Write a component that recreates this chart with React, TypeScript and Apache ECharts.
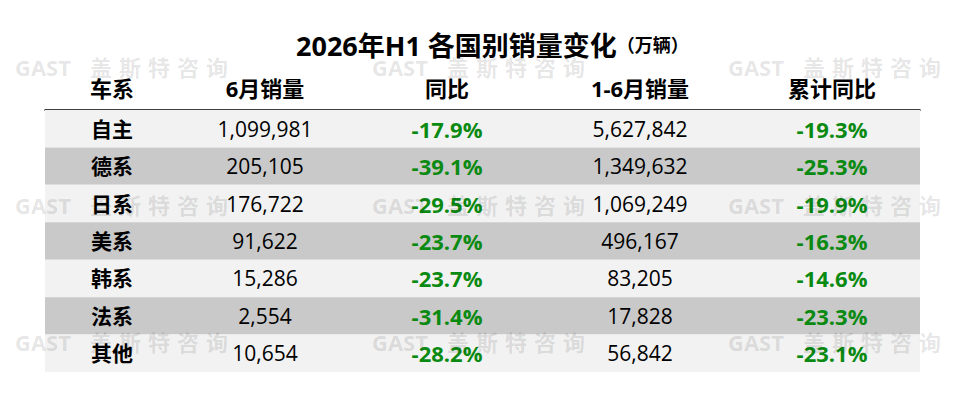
import { useEffect, useRef } from "react";
import * as echarts from "echarts";

// Table content
const columns = ["车系", "6月销量", "同比", "1-6月销量", "累计同比"];
const regions = ["自主", "德系", "日系", "美系", "韩系", "法系", "其他"];
const juneSales = [1099981, 205105, 176722, 91622, 15286, 2554, 10654];
const juneYoY = [-17.9, -39.1, -29.5, -23.7, -23.7, -31.4, -28.2];
const h1Sales = [5627842, 1349632, 1069249, 496167, 83205, 17828, 56842];
const h1YoY = [-19.3, -25.3, -19.9, -16.3, -14.6, -23.3, -23.1];

// column centres in table units (table spans 0..875)
const colCenters = [67, 220, 402, 595, 787];
const TABLE_WIDTH = 875;

const FONT = "'Open Sans', 'Noto Sans CJK SC', sans-serif";
const GREEN = "#0b8a12";
const ROW_LIGHT = "#f2f2f2";
const ROW_DARK = "#c9c9c9";

const fmtNum = (v: number) => v.toLocaleString("en-US");
const fmtPct = (v: number) => v.toFixed(1) + "%";

function watermark(x: number, y: number) {
  const chars = ["盖", "斯", "特", "咨", "询"];
  const style = {
    fill: "rgba(0,0,0,0.11)",
    font: `bold 22px ${FONT}`,
    verticalAlign: "middle" as const,
  };
  return [
    { type: "text", x, y, z: 100, silent: true, style: { ...style, text: "GAST" } },
    ...chars.map((c, i) => ({
      type: "text",
      x: x + 75 + i * 29,
      y,
      z: 100,
      silent: true,
      style: { ...style, text: c },
    })),
  ];
}

export default function App() {
  const chartRef = useRef<HTMLDivElement>(null);

  useEffect(() => {
    if (!chartRef.current) return;
    const chart = echarts.init(chartRef.current, undefined, { renderer: "svg" });

    const data = regions.map((_r, i) => [
      0,
      i,
      juneSales[i],
      juneYoY[i],
      h1Sales[i],
      h1YoY[i],
    ]);

    chart.setOption({
      animation: false,
      title: {
        text: "{a|2026年H1 各国别销量变化}{b|（万辆）}",
        left: 291,
        top: 27,
        textStyle: {
          rich: {
            a: { fontSize: 27, fontWeight: "bold", color: "#000", fontFamily: FONT },
            b: { fontSize: 18, fontWeight: "bold", color: "#000", fontFamily: FONT },
          },
        },
      },
      grid: { left: 45, right: 40, top: 110, bottom: 41 },
      xAxis: {
        type: "value",
        position: "top",
        min: 0,
        max: TABLE_WIDTH,
        axisLine: { show: true, lineStyle: { color: "#000", width: 1.5 } },
        axisTick: { show: false },
        axisLabel: { show: false },
        splitLine: { show: false },
      },
      yAxis: {
        type: "category",
        data: regions,
        inverse: true,
        show: false,
      },
      series: [
        {
          type: "custom",
          clip: false,
          data,
          z: 1,
          renderItem: (params: any, api: any) => {
            const row = api.value(1);
            const cs = params.coordSys;
            const cy = api.coord([0, row])[1];
            const h = api.size([0, 1])[1];
            const xs = colCenters.map((c) => api.coord([c, row])[0]);
            const cells = [
              { text: regions[row], bold: true, color: "#000", size: 21 },
              { text: fmtNum(api.value(2)), bold: false, color: "#000", size: 21 },
              { text: fmtPct(api.value(3)), bold: true, color: GREEN, size: 22 },
              { text: fmtNum(api.value(4)), bold: false, color: "#000", size: 21 },
              { text: fmtPct(api.value(5)), bold: true, color: GREEN, size: 22 },
            ];
            const children: any[] = [
              {
                type: "rect",
                shape: { x: cs.x, y: cy - h / 2, width: cs.width, height: h },
                style: { fill: row % 2 === 0 ? ROW_LIGHT : ROW_DARK },
                z2: 0,
              },
              ...cells.map((c, i) => ({
                type: "text",
                x: xs[i],
                y: cy,
                z2: 5,
                style: {
                  text: c.text,
                  fill: c.color,
                  font: `${c.bold ? "bold " : ""}${c.size}px ${FONT}`,
                  align: "center",
                  verticalAlign: "middle",
                },
              })),
            ];
            if (params.dataIndex === 0) {
              columns.forEach((col, i) => {
                children.push({
                  type: "text",
                  x: xs[i],
                  y: cs.y - 22,
                  z2: 5,
                  style: {
                    text: col,
                    fill: "#000",
                    font: `bold 22px ${FONT}`,
                    align: "center",
                    verticalAlign: "middle",
                  },
                });
              });
            }
            return { type: "group", children };
          },
        },
      ],
      graphic: [
        ...watermark(15, 67),
        ...watermark(372, 67),
        ...watermark(728, 67),
        ...watermark(15, 205),
        ...watermark(372, 205),
        ...watermark(728, 205),
        ...watermark(15, 342),
        ...watermark(372, 342),
        ...watermark(728, 342),
      ],
    });

    return () => chart.dispose();
  }, []);

  return (
    <div
      ref={chartRef}
      style={{ position: "fixed", left: 0, top: 0, width: 960, height: 413, background: "#fff" }}
    />
  );
}
